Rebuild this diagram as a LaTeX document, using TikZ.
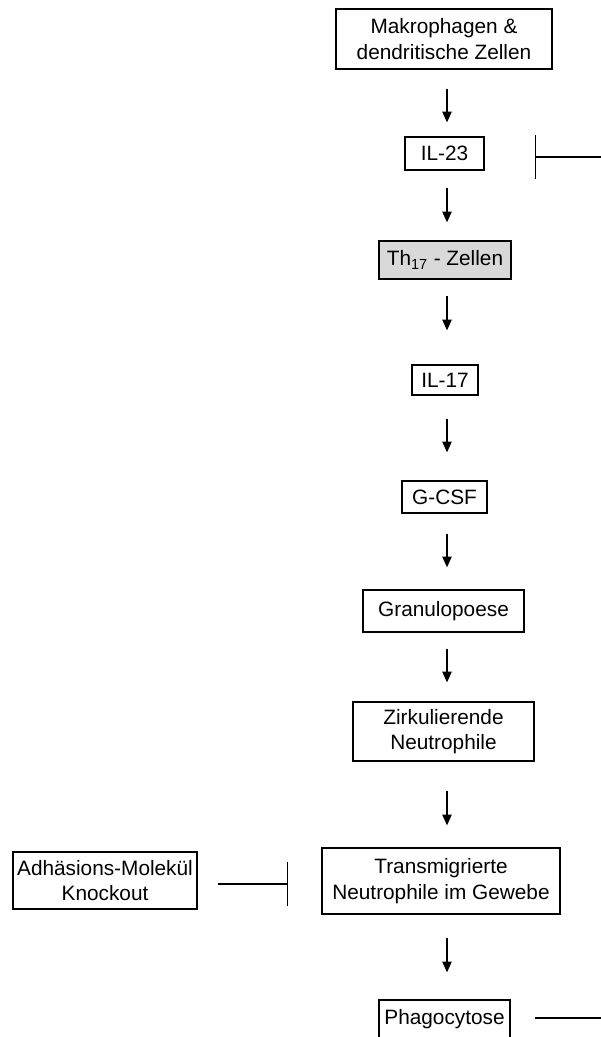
\documentclass[tikz,border=0pt]{standalone}
\usepackage{fontspec}
\setmainfont{Liberation Sans}
\usetikzlibrary{arrows.meta}
\newcommand\dfont{\fontsize{15.6}{19.2}\selectfont}
\begin{document}
\begin{tikzpicture}[x=0.75pt,y=-0.75pt,
  box/.style={draw=black, line width=1pt, inner sep=0pt, align=center, font=\dfont},
  arr/.style={line width=0.9pt, -{Triangle[width=7pt,length=8pt]}},
  inh/.style={line width=0.9pt, -{Bar[width=33pt]}},
  plain/.style={line width=0.9pt}]
\useasboundingbox (0,0) rectangle (600,1037);
\node[box, minimum width=162pt, minimum height=45pt] (mak) at (444,39) {Makrophagen \&\\dendritische Zellen};
\node[box, minimum width=59.25pt, minimum height=24.75pt] (il23) at (444.5,153.5) {IL-23};
\node[box, fill=black!15, minimum width=99pt, minimum height=28.5pt] (th) at (445,260) {Th\textsubscript{17} - Zellen};
\node[box, minimum width=49.5pt, minimum height=22.5pt] (il17) at (445,380) {IL-17};
\node[box, minimum width=63.75pt, minimum height=24pt] (gcsf) at (444.5,497) {G-CSF};
\node[box, minimum width=120.75pt, minimum height=31.5pt] (gran) at (443.5,611) {Granulopoese};
\node[box, minimum width=135.75pt, minimum height=44.25pt] (zirk) at (443.5,731.5) {Zirkulierende\\Neutrophile};
\node[box, minimum width=178.5pt, minimum height=49.5pt] (trans) at (441,881) {Transmigrierte\\Neutrophile im Gewebe};
\node[box, minimum width=138pt, minimum height=42.75pt] (adh) at (105,880.5) {Adhäsions-Molekül\\Knockout};
\node[box, minimum width=98.25pt, minimum height=28.5pt] (phago) at (444.5,1019) {Phagocytose};
\coordinate (ax) at (447,0);
\draw[arr, shorten <=14.25pt, shorten >=10.5pt] (ax |- mak.south) -- (ax |- il23.north);
\draw[arr, shorten <=12.75pt, shorten >=13.5pt] (ax |- il23.south) -- (ax |- th.north);
\draw[arr, shorten <=12pt, shorten >=25.5pt] (ax |- th.south) -- (ax |- il17.north);
\draw[arr, shorten <=17.25pt, shorten >=21pt] (ax |- il17.south) -- (ax |- gcsf.north);
\draw[arr, shorten <=15pt, shorten >=16.5pt] (ax |- gcsf.south) -- (ax |- gran.north);
\draw[arr, shorten <=12pt, shorten >=14.25pt] (ax |- gran.south) -- (ax |- zirk.north);
\draw[arr, shorten <=21.75pt, shorten >=16.5pt] (ax |- zirk.south) -- (ax |- trans.north);
\draw[arr, shorten <=17.25pt, shorten >=20.25pt] (ax |- trans.south) -- (ax |- phago.north);
\coordinate (r1) at (620,157);
\draw[inh, shorten >=37.5pt] (r1) -- (r1 -| il23.east);
\coordinate (la) at (0,884);
\draw[inh, shorten <=15pt, shorten >=24.75pt] (la -| adh.east) -- (la -| trans.west);
\coordinate (r2) at (620,1018);
\draw[plain, shorten <=18pt] (r2 -| phago.east) -- (r2);
\end{tikzpicture}
\end{document}
